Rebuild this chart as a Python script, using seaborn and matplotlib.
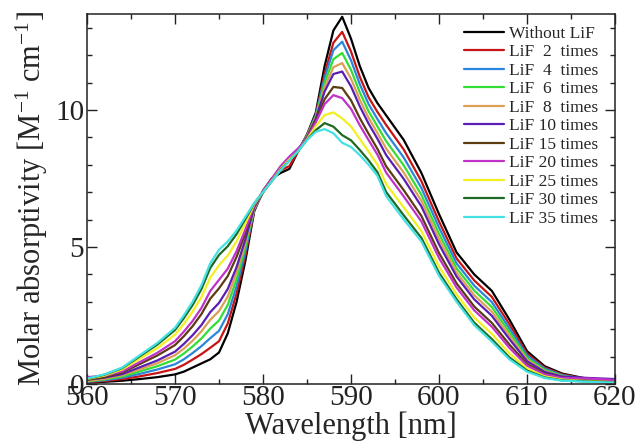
import numpy as np
import pandas as pd
import matplotlib
matplotlib.use("Agg")
import matplotlib.pyplot as plt
import seaborn as sns
from matplotlib.ticker import MultipleLocator

wavelength = [560, 562, 564, 566, 568, 570, 571, 572, 573, 574, 575, 576, 577, 578, 579,
              580, 581, 582, 583, 584, 585, 586, 587, 588, 589, 590, 591, 592, 593, 594,
              596, 598, 600, 602, 604, 606, 608, 610, 612, 614, 617, 620]

without_lif = [0.05, 0.08, 0.12, 0.18, 0.25, 0.35, 0.45, 0.60, 0.75, 0.90, 1.15, 1.85, 3.00, 4.50, 6.30,
               7.05, 7.50, 7.70, 7.85, 8.50, 9.10, 9.90, 11.60, 12.90, 13.40, 12.60, 11.60, 10.80, 10.25, 9.80,
               8.90, 7.70, 6.20, 4.80, 4.00, 3.40, 2.35, 1.20, 0.65, 0.38, 0.18, 0.10]
lif_2 = [0.07, 0.11, 0.18, 0.28, 0.40, 0.55, 0.70, 0.89, 1.09, 1.32, 1.56, 2.21, 3.31, 4.69, 6.34,
         7.00, 7.49, 7.80, 7.95, 8.50, 9.08, 9.82, 11.32, 12.45, 12.85, 12.13, 11.21, 10.46, 9.93, 9.45,
         8.55, 7.40, 5.93, 4.58, 3.78, 3.18, 2.18, 1.11, 0.60, 0.35, 0.17, 0.09]
lif_4 = [0.08, 0.14, 0.23, 0.37, 0.53, 0.72, 0.90, 1.13, 1.38, 1.67, 1.94, 2.55, 3.57, 4.85, 6.37,
         7.00, 7.47, 7.85, 8.20, 8.50, 9.06, 9.80, 11.17, 12.18, 12.49, 11.81, 10.94, 10.21, 9.67, 9.15,
         8.26, 7.15, 5.71, 4.40, 3.59, 2.99, 2.03, 1.04, 0.56, 0.32, 0.16, 0.09]
lif_6 = [0.10, 0.17, 0.27, 0.46, 0.65, 0.89, 1.11, 1.37, 1.66, 2.02, 2.32, 2.89, 3.83, 5.01, 6.40,
         7.00, 7.46, 7.86, 8.20, 8.50, 9.04, 9.75, 10.98, 11.85, 12.08, 11.46, 10.64, 9.95, 9.40, 8.86,
         7.97, 6.90, 5.48, 4.22, 3.41, 2.81, 1.89, 0.96, 0.51, 0.30, 0.15, 0.08]
lif_8 = [0.11, 0.19, 0.32, 0.54, 0.76, 1.05, 1.29, 1.58, 1.92, 2.34, 2.66, 3.19, 4.07, 5.16, 6.42,
         7.00, 7.46, 7.87, 8.22, 8.50, 9.02, 9.71, 10.82, 11.56, 11.71, 11.14, 10.37, 9.71, 9.16, 8.59,
         7.71, 6.68, 5.28, 4.06, 3.24, 2.64, 1.76, 0.89, 0.47, 0.27, 0.14, 0.08]
lif_10 = [0.16, 0.23, 0.36, 0.61, 0.86, 1.18, 1.46, 1.78, 2.15, 2.62, 2.96, 3.47, 4.27, 5.28, 6.45,
          7.00, 7.45, 7.90, 8.25, 8.55, 9.00, 9.68, 10.67, 11.31, 11.40, 10.86, 10.13, 9.50, 8.95, 8.35,
          7.48, 6.48, 5.10, 3.92, 3.09, 2.49, 1.64, 0.83, 0.44, 0.27, 0.22, 0.18]
lif_15 = [0.15, 0.25, 0.42, 0.73, 1.04, 1.42, 1.74, 2.11, 2.55, 3.11, 3.49, 3.94, 4.64, 5.51, 6.49,
          7.00, 7.44, 7.90, 8.25, 8.55, 8.97, 9.61, 10.39, 10.84, 10.80, 10.35, 9.70, 9.13, 8.58, 7.94,
          7.07, 6.13, 4.78, 3.67, 2.83, 2.23, 1.44, 0.73, 0.38, 0.22, 0.12, 0.07]
lif_20 = [0.25, 0.30, 0.46, 0.80, 1.14, 1.56, 1.91, 2.30, 2.77, 3.39, 3.80, 4.21, 4.85, 5.64, 6.51,
          7.05, 7.50, 7.95, 8.30, 8.60, 8.96, 9.55, 10.21, 10.54, 10.43, 10.04, 9.44, 8.90, 8.37, 7.71,
          6.84, 5.93, 4.60, 3.52, 2.69, 2.09, 1.32, 0.67, 0.35, 0.22, 0.20, 0.15]
lif_25 = [0.18, 0.31, 0.53, 0.92, 1.31, 1.80, 2.19, 2.64, 3.17, 3.88, 4.33, 4.69, 5.21, 5.86, 6.56,
          7.00, 7.42, 7.85, 8.20, 8.50, 8.93, 9.41, 9.81, 9.91, 9.69, 9.40, 8.94, 8.48, 8.00, 7.29,
          6.44, 5.58, 4.29, 3.27, 2.43, 1.83, 1.12, 0.56, 0.28, 0.16, 0.10, 0.06]
lif_30 = [0.19, 0.34, 0.58, 1.01, 1.44, 1.97, 2.40, 2.88, 3.46, 4.23, 4.71, 5.03, 5.47, 6.02, 6.59,
          7.00, 7.40, 7.82, 8.15, 8.50, 8.91, 9.26, 9.52, 9.39, 9.08, 8.89, 8.54, 8.16, 7.73, 7.00,
          6.15, 5.33, 4.06, 3.09, 2.24, 1.64, 0.97, 0.49, 0.24, 0.13, 0.09, 0.05]
lif_35 = [0.20, 0.35, 0.60, 1.05, 1.50, 2.05, 2.50, 3.00, 3.60, 4.40, 4.90, 5.20, 5.60, 6.10, 6.60,
          7.00, 7.40, 7.80, 8.15, 8.50, 8.90, 9.20, 9.30, 9.15, 8.80, 8.65, 8.35, 8.00, 7.60, 6.85,
          6.00, 5.20, 3.95, 3.00, 2.15, 1.55, 0.90, 0.45, 0.22, 0.12, 0.08, 0.05]

series_labels = ["Without LiF", "LiF  2  times", "LiF  4  times", "LiF  6  times", "LiF  8  times",
                 "LiF 10 times", "LiF 15 times", "LiF 20 times", "LiF 25 times", "LiF 30 times",
                 "LiF 35 times"]
series_values = [without_lif, lif_2, lif_4, lif_6, lif_8, lif_10, lif_15, lif_20, lif_25, lif_30, lif_35]
colors = ["#000000", "#c81414", "#2a86dc", "#33dd33", "#dca055", "#5a1eb4",
          "#5c3c12", "#c032c8", "#f2f020", "#1e6a24", "#44e0e4"]

frames = []
for lab, vals in zip(series_labels, series_values):
    frames.append(pd.DataFrame({"Wavelength": wavelength, "Absorptivity": vals, "Series": lab}))
df = pd.concat(frames, ignore_index=True)

sns.set_theme(style="ticks")
plt.rcParams["font.family"] = ["Liberation Serif", "DejaVu Serif"]
plt.rcParams["mathtext.fontset"] = "custom"
plt.rcParams["mathtext.rm"] = "Liberation Serif"
plt.rcParams["mathtext.it"] = "Liberation Serif:italic"

fig = plt.figure(figsize=(6.4, 4.46), dpi=100)
ax = fig.add_axes([87 / 640, 62 / 446, 528 / 640, 370 / 446])

sns.lineplot(data=df, x="Wavelength", y="Absorptivity", hue="Series",
             hue_order=series_labels, palette=colors, linewidth=1.6, ax=ax,
             legend=True, estimator=None, sort=False)

ax.set_xlim(560, 620)
ax.set_ylim(0, 13.5)
ax.xaxis.set_major_locator(MultipleLocator(10))
ax.xaxis.set_minor_locator(MultipleLocator(5))
ax.yaxis.set_major_locator(MultipleLocator(5))
ax.yaxis.set_minor_locator(MultipleLocator(1))
ax.tick_params(which="both", direction="in", top=True, right=True, colors="#222222")
ax.tick_params(which="major", length=7, width=1.0, labelsize=21)
ax.tick_params(which="minor", length=3.5, width=1.0)
ax.tick_params(axis="x", which="major", pad=1)
ax.tick_params(axis="y", which="major", pad=2)
for sp in ax.spines.values():
    sp.set_linewidth(1.1)
    sp.set_color("#222222")

ax.set_xlabel("Wavelength [nm]", fontsize=22, labelpad=0)
ax.set_ylabel(r"Molar absorptivity [M$^{-1}$ cm$^{-1}$]", fontsize=22, labelpad=4)

handles, labels = ax.get_legend_handles_labels()
ax.legend(handles, labels, loc="upper left", bbox_to_anchor=(0.714, 0.968),
          frameon=False, fontsize=12.5, handlelength=2.3, handletextpad=0.3,
          labelspacing=0.135, borderpad=0, borderaxespad=0)

fig.savefig("out.png", dpi=100)
